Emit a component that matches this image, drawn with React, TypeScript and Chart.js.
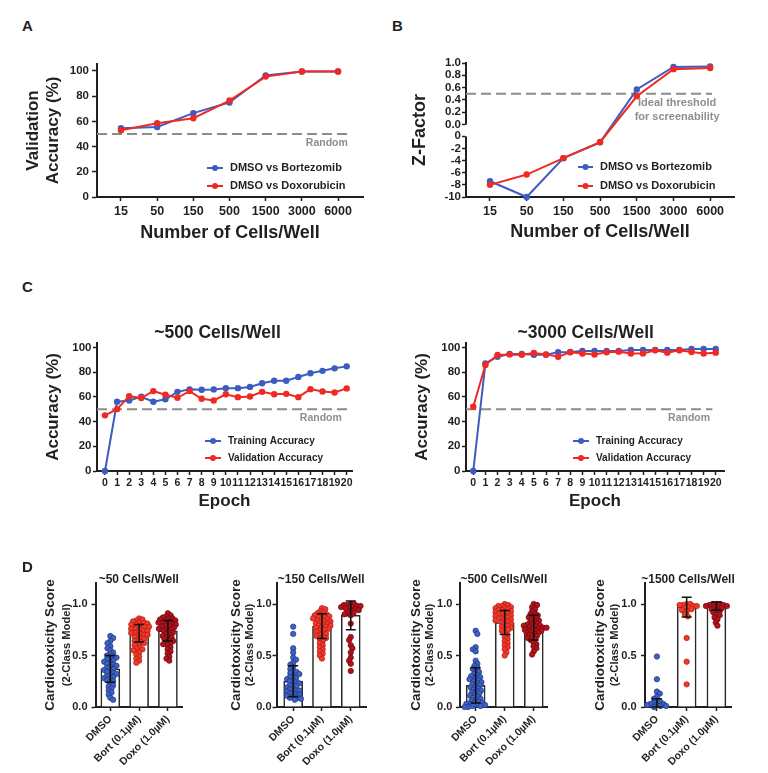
import React, { useEffect, useRef } from 'react';
import { Chart, registerables, LinearScale } from 'chart.js';

const FONT = '"Liberation Sans", Arial, Helvetica, sans-serif';
const INK = '#231f20';
const BLUE = '#3c5cbf';
const RED = '#ef2a24';
const GRAY_LINE = '#8c8c8c';
const GRAY_TEXT = '#8e8e8e';

// ---------- Panel A ----------
const cellLabels = ['15', '50', '150', '500', '1500', '3000', '6000'];
const accBortezomib = [54.5, 55.5, 66.5, 75, 96.5, 99.5, 99.5];
const accDoxorubicin = [53, 58.5, 62.5, 76.5, 95.5, 99.5, 99.5];
const accTicks = [0, 20, 40, 60, 80, 100];
const randomLevel = 50;

// ---------- Panel B ----------
const zBortezomib = [-7.4, -10, -3.6, -1, 0.57, 0.935, 0.945];
const zDoxorubicin = [-8, -6.3, -3.6, -0.95, 0.46, 0.9, 0.92];
const zTicksTop = [0, 0.2, 0.4, 0.6, 0.8, 1.0];
const zTicksBottom = [-10, -8, -6, -4, -2, 0];
const zThreshold = 0.5;

// ---------- Panel C ----------
const epochs = [0, 1, 2, 3, 4, 5, 6, 7, 8, 9, 10, 11, 12, 13, 14, 15, 16, 17, 18, 19, 20];
const train500 = [0, 56, 57, 60, 56, 58, 64, 66, 65.7, 66, 67, 67, 68, 71, 73, 73, 76, 79, 81, 83, 84.6];
const val500 = [45, 50, 60.5, 59, 64.6, 61.6, 59.2, 64.6, 58.4, 57, 62, 59.7, 60.3, 64, 62, 62.4, 59.7, 66.2, 64.3, 63.5, 66.8];
const train3000 = [0, 87, 92.4, 94.6, 94.6, 94, 94, 96, 96.2, 97, 97, 97, 97, 97.8, 97.8, 97.8, 97.8, 97.8, 98.6, 98.6, 98.6];
const val3000 = [52, 85.7, 93.8, 94.3, 94, 95.4, 94.3, 92.4, 96, 95, 94.3, 96, 96.5, 95, 95.1, 97.6, 95.7, 97.6, 96.2, 95, 95.7];

// ---------- Panel D ----------
const groups = ['DMSO', 'Bort (0.1µM)', 'Doxo (1.0µM)'];
const dTitles = ['~50 Cells/Well', '~150 Cells/Well', '~500 Cells/Well', '~1500 Cells/Well'];
const scoreTicks = [0, 0.5, 1.0];

const d50Dmso = [0.69, 0.67, 0.64, 0.62, 0.59, 0.57, 0.55, 0.53, 0.51, 0.5, 0.49, 0.48, 0.47, 0.46, 0.45, 0.44, 0.43, 0.42, 0.41, 0.4, 0.39, 0.38, 0.37, 0.36, 0.35, 0.34, 0.33, 0.32, 0.31, 0.3, 0.29, 0.28, 0.27, 0.26, 0.25, 0.23, 0.21, 0.2, 0.18, 0.16, 0.14, 0.12, 0.09, 0.07];
const d50Bort = [0.86, 0.85, 0.84, 0.83, 0.82, 0.82, 0.81, 0.8, 0.8, 0.79, 0.78, 0.78, 0.77, 0.76, 0.76, 0.75, 0.74, 0.74, 0.73, 0.72, 0.72, 0.71, 0.7, 0.7, 0.69, 0.68, 0.67, 0.66, 0.65, 0.64, 0.63, 0.62, 0.61, 0.6, 0.58, 0.57, 0.56, 0.55, 0.53, 0.51, 0.49, 0.47, 0.45, 0.43];
const d50Doxo = [0.91, 0.89, 0.88, 0.87, 0.86, 0.86, 0.85, 0.84, 0.84, 0.83, 0.82, 0.82, 0.81, 0.8, 0.8, 0.79, 0.78, 0.78, 0.77, 0.76, 0.76, 0.75, 0.74, 0.73, 0.72, 0.71, 0.7, 0.69, 0.68, 0.67, 0.66, 0.65, 0.64, 0.63, 0.62, 0.61, 0.6, 0.58, 0.56, 0.54, 0.52, 0.49, 0.47, 0.45];

const d150Dmso = [0.78, 0.71, 0.57, 0.53, 0.48, 0.46, 0.43, 0.41, 0.39, 0.37, 0.35, 0.34, 0.33, 0.32, 0.3, 0.29, 0.28, 0.27, 0.26, 0.25, 0.24, 0.23, 0.22, 0.21, 0.2, 0.19, 0.18, 0.17, 0.16, 0.16, 0.15, 0.14, 0.13, 0.12, 0.12, 0.11, 0.1, 0.09, 0.09, 0.08, 0.07];
const d150Bort = [0.96, 0.95, 0.93, 0.92, 0.91, 0.9, 0.89, 0.89, 0.88, 0.87, 0.87, 0.86, 0.85, 0.85, 0.84, 0.83, 0.83, 0.82, 0.81, 0.81, 0.8, 0.79, 0.79, 0.78, 0.77, 0.77, 0.76, 0.75, 0.74, 0.73, 0.72, 0.71, 0.7, 0.69, 0.68, 0.67, 0.66, 0.64, 0.62, 0.6, 0.58, 0.56, 0.54, 0.52, 0.5, 0.47];
const d150Doxo = [1.0, 1.0, 0.99, 0.99, 0.98, 0.98, 0.97, 0.97, 0.96, 0.96, 0.95, 0.94, 0.93, 0.92, 0.91, 0.9, 0.89, 0.81, 0.68, 0.65, 0.6, 0.57, 0.53, 0.48, 0.45, 0.42, 0.35];

const d500Dmso = [0.74, 0.71, 0.58, 0.56, 0.54, 0.45, 0.42, 0.4, 0.38, 0.37, 0.35, 0.34, 0.32, 0.31, 0.3, 0.29, 0.28, 0.27, 0.26, 0.25, 0.24, 0.23, 0.22, 0.21, 0.2, 0.19, 0.18, 0.17, 0.16, 0.15, 0.14, 0.13, 0.12, 0.11, 0.1, 0.09, 0.08, 0.07, 0.06, 0.05, 0.04, 0.04, 0.03, 0.03, 0.02, 0.02, 0.01, 0.01, 0.0, 0.0];
const d500Bort = [1.0, 0.99, 0.98, 0.98, 0.97, 0.96, 0.96, 0.95, 0.94, 0.94, 0.93, 0.92, 0.92, 0.91, 0.9, 0.9, 0.89, 0.88, 0.88, 0.87, 0.86, 0.86, 0.85, 0.84, 0.84, 0.83, 0.82, 0.81, 0.8, 0.79, 0.78, 0.77, 0.76, 0.75, 0.74, 0.72, 0.7, 0.68, 0.66, 0.64, 0.62, 0.6, 0.58, 0.56, 0.53, 0.5];
const d500Doxo = [1.0, 0.99, 0.97, 0.95, 0.93, 0.91, 0.9, 0.89, 0.88, 0.87, 0.86, 0.85, 0.84, 0.83, 0.82, 0.81, 0.8, 0.8, 0.79, 0.79, 0.78, 0.78, 0.77, 0.77, 0.76, 0.76, 0.75, 0.75, 0.74, 0.74, 0.73, 0.72, 0.72, 0.71, 0.7, 0.69, 0.68, 0.67, 0.66, 0.65, 0.63, 0.61, 0.59, 0.57, 0.54, 0.51];

const d1500Dmso = [0.49, 0.27, 0.15, 0.13, 0.1, 0.08, 0.06, 0.05, 0.04, 0.03, 0.03, 0.02, 0.02, 0.01, 0.01, 0.0];
const d1500Bort = [1.0, 1.0, 0.99, 0.99, 0.98, 0.98, 0.97, 0.96, 0.95, 0.94, 0.93, 0.9, 0.88, 0.67, 0.44, 0.22];
const d1500Doxo = [1.0, 1.0, 1.0, 0.99, 0.99, 0.98, 0.98, 0.97, 0.97, 0.96, 0.95, 0.94, 0.93, 0.92, 0.9, 0.89, 0.87, 0.85, 0.82, 0.79];

const dPoints = [
  [d50Dmso, d50Bort, d50Doxo],
  [d150Dmso, d150Bort, d150Doxo],
  [d500Dmso, d500Bort, d500Doxo],
  [d1500Dmso, d1500Bort, d1500Doxo],
];
const dMeans = [
  [0.37, 0.715, 0.74],
  [0.25, 0.785, 0.89],
  [0.21, 0.82, 0.77],
  [0.03, 0.97, 0.98],
];
const dSds = [
  [0.13, 0.085, 0.1],
  [0.15, 0.12, 0.14],
  [0.17, 0.117, 0.12],
  [0.05, 0.095, 0.04],
];
const groupFill = ['#3e62c4', '#f23a2c', '#b3121b'];
const groupStroke = ['#1f3580', '#b01a12', '#6a0a10'];

// ---------- broken y scale for panel B ----------
const BROKEN = { topShare: 0.46, gapShare: 0.087 };

class BrokenLinearScale extends (LinearScale as any) {
  static id = 'brokenLinear';
  static defaults = {};
  segPixel(v: number, seg: string): number {
    const self: any = this;
    const H = self.bottom - self.top;
    const tMax = zTicksTop[zTicksTop.length - 1];
    const tMin = zTicksTop[0];
    const bMax = zTicksBottom[zTicksBottom.length - 1];
    const bMin = zTicksBottom[0];
    if (seg === 'top') return self.top + ((tMax - v) / (tMax - tMin)) * H * BROKEN.topShare;
    const y0 = self.top + H * (BROKEN.topShare + BROKEN.gapShare);
    const h = H * (1 - BROKEN.topShare - BROKEN.gapShare);
    return y0 + ((bMax - v) / (bMax - bMin)) * h;
  }
  buildTicks() {
    return [
      ...zTicksBottom.map((v) => ({ value: v, seg: 'bottom' })),
      ...zTicksTop.map((v) => ({ value: v, seg: 'top' })),
    ];
  }
  getPixelForValue(v: number) {
    if (v === null || v === undefined || isNaN(v)) return NaN;
    return this.segPixel(v, v >= 0 ? 'top' : 'bottom');
  }
  getPixelForTick(i: number) {
    const t = (this as any).ticks[i];
    return this.segPixel(t.value, t.seg);
  }
  drawBorder() {
    const self: any = this;
    const ctx = self.ctx;
    const x = self.right;
    ctx.save();
    ctx.strokeStyle = INK;
    ctx.lineWidth = 2;
    ctx.beginPath();
    ctx.moveTo(x, this.segPixel(zTicksTop[zTicksTop.length - 1], 'top') - 1);
    ctx.lineTo(x, this.segPixel(zTicksTop[0], 'top'));
    ctx.moveTo(x, this.segPixel(zTicksBottom[zTicksBottom.length - 1], 'bottom'));
    ctx.lineTo(x, this.segPixel(zTicksBottom[0], 'bottom') + 1);
    ctx.stroke();
    ctx.restore();
  }
}

// ---------- plugins ----------
const insideLegend = {
  id: 'insideLegend',
  afterDatasetsDraw(chart: any, _a: any, opts: any) {
    if (!opts || !opts.items) return;
    const { ctx, chartArea } = chart;
    ctx.save();
    opts.items.forEach((it: any, k: number) => {
      const y = chartArea.top + opts.y + k * opts.gap;
      const x0 = chartArea.left + opts.x;
      ctx.strokeStyle = it.color;
      ctx.fillStyle = it.color;
      ctx.lineWidth = 2;
      ctx.beginPath();
      ctx.moveTo(x0, y);
      ctx.lineTo(x0 + opts.len, y);
      ctx.stroke();
      ctx.beginPath();
      ctx.arc(x0 + opts.len / 2, y, 3, 0, Math.PI * 2);
      ctx.fill();
      ctx.fillStyle = INK;
      ctx.font = `bold ${opts.size}px ${FONT}`;
      ctx.textAlign = 'left';
      ctx.textBaseline = 'middle';
      ctx.fillText(it.label, x0 + opts.len + opts.textGap, y);
    });
    ctx.restore();
  },
};

const annots = {
  id: 'annots',
  afterDatasetsDraw(chart: any, _a: any, opts: any) {
    if (!opts || !opts.items) return;
    const { ctx, chartArea, scales } = chart;
    ctx.save();
    opts.items.forEach((t: any) => {
      let x: number;
      let y: number;
      if (t.xv !== undefined) x = scales.x.getPixelForValue(t.xv);
      else if (t.px === 'center') x = (chartArea.left + chartArea.right) / 2;
      else x = t.px;
      if (t.yv !== undefined) y = scales.y.getPixelForValue(t.yv);
      else if (t.py === 'mid') y = (chartArea.top + chartArea.bottom) / 2;
      else y = t.py;
      ctx.font = `bold ${t.size}px ${FONT}`;
      ctx.fillStyle = t.color || INK;
      ctx.textAlign = t.align || 'center';
      ctx.textBaseline = 'middle';
      ctx.save();
      ctx.translate(x, y);
      if (t.rot) ctx.rotate((t.rot * Math.PI) / 180);
      ctx.fillText(t.text, 0, 0);
      ctx.restore();
    });
    ctx.restore();
  },
};

const errBars = {
  id: 'errBars',
  afterDatasetsDraw(chart: any, _a: any, opts: any) {
    if (!opts || !opts.means) return;
    const { ctx, scales } = chart;
    ctx.save();
    ctx.strokeStyle = '#111';
    ctx.lineWidth = 1.5;
    opts.means.forEach((m: number, i: number) => {
      const sd = opts.sds[i];
      const x = scales.x.getPixelForValue(i);
      const y1 = scales.y.getPixelForValue(m + sd);
      const y2 = scales.y.getPixelForValue(Math.max(0, m - sd));
      ctx.beginPath();
      ctx.moveTo(x, y1);
      ctx.lineTo(x, y2);
      ctx.moveTo(x - opts.cap, y1);
      ctx.lineTo(x + opts.cap, y1);
      ctx.moveTo(x - opts.cap, y2);
      ctx.lineTo(x + opts.cap, y2);
      ctx.stroke();
    });
    ctx.restore();
  },
};

Chart.register(...registerables, BrokenLinearScale as any, insideLegend, annots, errBars);

// ---------- helpers ----------
function axis(o: any) {
  return {
    type: o.type || 'linear',
    min: o.min,
    max: o.max,
    offset: false,
    afterBuildTicks: o.tickValues
      ? (s: any) => {
          s.ticks = o.tickValues.map((v: number) => ({ value: v }));
        }
      : undefined,
    afterFit: (s: any) => {
      if (o.width !== undefined) s.width = o.width;
      if (o.height !== undefined) s.height = o.height;
    },
    border: { display: true, color: INK, width: 2 },
    grid: {
      display: true,
      offset: false,
      drawOnChartArea: false,
      drawTicks: true,
      tickLength: o.tickLen ?? 4,
      tickWidth: 1.5,
      tickColor: INK,
    },
    ticks: {
      autoSkip: false,
      maxRotation: o.rot ?? 0,
      minRotation: o.rot ?? 0,
      padding: o.tickPad ?? 3,
      color: INK,
      font: { family: FONT, size: o.tickSize ?? 12, weight: 'bold' },
      callback: o.fmt,
    },
    title: o.title
      ? {
          display: true,
          text: o.title,
          color: INK,
          font: { family: FONT, size: o.titleSize, weight: 'bold', lineHeight: 1.2 },
          padding: o.titlePad,
        }
      : { display: false },
  };
}

function lineSet(label: string, xs: number[], ys: number[], color: string) {
  return {
    type: 'line',
    label,
    data: xs.map((x, i) => ({ x, y: ys[i] })),
    borderColor: color,
    backgroundColor: color,
    borderWidth: 2,
    pointRadius: 3.2,
    pointBorderWidth: 0,
    pointBackgroundColor: color,
    tension: 0,
    clip: false,
  };
}

function dashSet(x0: number, x1: number, y: number) {
  return {
    type: 'line',
    label: 'ref',
    data: [
      { x: x0, y },
      { x: x1, y },
    ],
    borderColor: GRAY_LINE,
    borderWidth: 2,
    borderDash: [10, 5],
    pointRadius: 0,
    clip: false,
  };
}

const baseOpts = (padding: any) => ({
  animation: false,
  responsive: false,
  maintainAspectRatio: false,
  events: [],
  layout: { padding },
});

const cellIdx = cellLabels.map((_, i) => i);

// ---------- Panel A ----------
function buildA() {
  const xmin = -0.663;
  return {
    type: 'line',
    data: {
      datasets: [
        lineSet('DMSO vs Doxorubicin', cellIdx, accDoxorubicin, RED),
        lineSet('DMSO vs Bortezomib', cellIdx, accBortezomib, BLUE),
        dashSet(xmin, 6.28, randomLevel),
      ],
    },
    options: {
      ...baseOpts({ top: 24, right: 21, left: 0, bottom: 0 }),
      plugins: {
        legend: { display: false },
        tooltip: { enabled: false },
        insideLegend: {
          x: 110, y: 104, gap: 18, len: 16, textGap: 7, size: 11,
          items: [
            { label: 'DMSO vs Bortezomib', color: BLUE },
            { label: 'DMSO vs Doxorubicin', color: RED },
          ],
        },
        annots: { items: [{ text: 'Random', xv: 6.27, yv: 43, align: 'right', size: 10.5, color: GRAY_TEXT }] },
      },
      scales: {
        x: axis({
          min: xmin, max: 6.69, tickValues: cellIdx, fmt: (v: number) => cellLabels[v],
          height: 73, tickPad: 3.5, tickSize: 12.5,
          title: 'Number of Cells/Well', titleSize: 18, titlePad: { top: 0, bottom: 25.9 },
        }),
        y: axis({
          min: 0, max: 105.5, tickValues: accTicks, fmt: (v: number) => String(v),
          width: 97, tickLen: 5, tickPad: 3, tickSize: 11.5,
          title: ['Validation', 'Accuracy (%)'], titleSize: 17, titlePad: { top: 22.8, bottom: 0 },
        }),
      },
    },
  };
}

// ---------- Panel B ----------
function buildB() {
  const xmin = -0.654;
  return {
    type: 'line',
    data: {
      datasets: [
        lineSet('DMSO vs Doxorubicin', cellIdx, zDoxorubicin, RED),
        lineSet('DMSO vs Bortezomib', cellIdx, zBortezomib, BLUE),
        dashSet(xmin, 6.05, zThreshold),
      ],
    },
    options: {
      ...baseOpts({ top: 23, right: 34, left: 0, bottom: 0 }),
      plugins: {
        legend: { display: false },
        tooltip: { enabled: false },
        insideLegend: {
          x: 112, y: 104, gap: 19, len: 15, textGap: 7, size: 11,
          items: [
            { label: 'DMSO vs Bortezomib', color: BLUE },
            { label: 'DMSO vs Doxorubicin', color: RED },
          ],
        },
        annots: {
          items: [
            { text: 'Ideal threshold', xv: 5.1, yv: 0.35, align: 'center', size: 11, color: GRAY_TEXT },
            { text: 'for screenability', xv: 5.1, yv: 0.118, align: 'center', size: 11, color: GRAY_TEXT },
          ],
        },
      },
      scales: {
        x: axis({
          min: xmin, max: 6.65, tickValues: cellIdx, fmt: (v: number) => cellLabels[v],
          height: 73, tickPad: 3.5, tickSize: 12.5,
          title: 'Number of Cells/Well', titleSize: 18, titlePad: { top: 0, bottom: 27.5 },
        }),
        y: {
          ...axis({
            type: 'brokenLinear', min: -10, max: 1,
            fmt: (v: number, i: number, ticks: any[]) => (ticks[i].seg === 'top' ? v.toFixed(1) : String(v)),
            width: 82, tickLen: 4, tickPad: 1, tickSize: 11.5,
            title: 'Z-Factor', titleSize: 18, titlePad: { top: 25.5, bottom: 0 },
          }),
          afterBuildTicks: undefined,
        },
      },
    },
  };
}

// ---------- Panel C ----------
function buildC(train: number[], val: number[], geo: any) {
  return {
    type: 'line',
    data: {
      datasets: [
        lineSet('Validation Accuracy', epochs, val, RED),
        lineSet('Training Accuracy', epochs, train, BLUE),
        dashSet(geo.xmin, geo.dashEnd, randomLevel),
      ],
    },
    options: {
      ...baseOpts({ top: 23, right: geo.padRight, left: 0, bottom: 0 }),
      plugins: {
        legend: { display: false },
        tooltip: { enabled: false },
        insideLegend: {
          x: geo.legX, y: 98, gap: 17, len: 16, textGap: 7, size: 10,
          items: [
            { label: 'Training Accuracy', color: BLUE },
            { label: 'Validation Accuracy', color: RED },
          ],
        },
        annots: {
          items: [
            { text: 'Random', xv: geo.randomX, yv: 42.7, align: 'right', size: 10.5, color: GRAY_TEXT },
            { text: geo.title, px: geo.titleX, py: 13, align: 'center', size: 17.5, color: INK },
          ],
        },
      },
      scales: {
        x: axis({
          min: geo.xmin, max: geo.xmax, tickValues: epochs, fmt: (v: number) => String(v),
          height: 49, tickPad: 1.7, tickSize: 10.5,
          title: 'Epoch', titleSize: 17, titlePad: { top: 0, bottom: 8.1 },
        }),
        y: axis({
          min: 0, max: 103.5, tickValues: accTicks, fmt: (v: number) => String(v),
          width: geo.yWidth, tickLen: 4, tickPad: 1.5, tickSize: 11.5,
          title: 'Accuracy (%)', titleSize: 17, titlePad: { top: geo.yTitlePad, bottom: 0 },
        }),
      },
    },
  };
}

const buildC500 = () =>
  buildC(train500, val500, {
    xmin: -0.66, xmax: 20.44, dashEnd: 20.14, padRight: 32, legX: 108, randomX: 19.6,
    title: '~500 Cells/Well', titleX: 217.5, yWidth: 97, yTitlePad: 42.8,
  });
const buildC3000 = () =>
  buildC(train3000, val3000, {
    xmin: -0.6, xmax: 20.68, dashEnd: 19.72, padRight: 44, legX: 107, randomX: 19.53,
    title: '~3000 Cells/Well', titleX: 201.7, yWidth: 82, yTitlePad: 28.1,
  });

// ---------- Panel D ----------
// deterministic beeswarm layout (horizontal spread only; values are untouched)
function swarm(values: number[], pxPerX: number, pxPerY: number, d: number): number[] {
  const order = values.map((_, i) => i).sort((a, b) => values[b] - values[a]);
  const placed: { x: number; y: number }[] = [];
  const out = values.map(() => 0);
  let balance = 0;
  for (const i of order) {
    const y = values[i] * pxPerY;
    const cands = [0];
    for (const p of placed) {
      const dy = Math.abs(p.y - y);
      if (dy < d) {
        const dx = Math.sqrt(d * d - dy * dy);
        cands.push(p.x + dx + 0.01, p.x - dx - 0.01);
      }
    }
    const pref = balance > 0 ? -1 : 1;
    cands.sort((a, b) => {
      const da = Math.abs(a) - Math.abs(b);
      if (Math.abs(da) > 0.3) return da;
      return (Math.sign(b) === pref ? 1 : 0) - (Math.sign(a) === pref ? 1 : 0);
    });
    let chosen = 0;
    for (const c of cands) {
      if (placed.every((p) => (p.x - c) ** 2 + (p.y - y) ** 2 >= d * d - 0.01)) {
        chosen = c;
        break;
      }
    }
    balance += chosen;
    placed.push({ x: chosen, y });
    out[i] = chosen / pxPerX;
  }
  return out;
}

const dGeo = [
  { xmin: -0.515, xmax: 2.49, yWidth: 95.5, padRight: 8, tickPad: 4, titlePad: 41.9, subX: 66.7 },
  { xmin: -0.58, xmax: 2.53, yWidth: 86.5, padRight: 14, tickPad: 1, titlePad: 38.6, subX: 60 },
  { xmin: -0.54, xmax: 2.48, yWidth: 80, padRight: 22.3, tickPad: 3.7, titlePad: 28.6, subX: 50 },
  { xmin: -0.4, xmax: 2.49, yWidth: 75, padRight: 37, tickPad: 4.4, titlePad: 21.9, subX: 45 },
];

function buildD(k: number) {
  const g = dGeo[k];
  const groupIdx = groups.map((_, i) => i);
  const scatterSets = dPoints[k].map((vals, gi) => {
    const offs = swarm(vals, 29, 103, 3.5);
    return {
      type: 'scatter',
      label: groups[gi],
      data: vals.map((v, j) => ({ x: gi + offs[j], y: v })),
      pointRadius: 2.7,
      pointBackgroundColor: groupFill[gi],
      pointBorderColor: groupStroke[gi],
      pointBorderWidth: 0.7,
      order: 1,
      clip: false,
    };
  });
  return {
    type: 'scatter',
    data: {
      datasets: [
        ...scatterSets,
        {
          type: 'bar',
          label: 'mean',
          data: groupIdx.map((i) => ({ x: i, y: dMeans[k][i] })),
          backgroundColor: '#ffffff',
          borderColor: '#2b2b2b',
          borderWidth: 1.6,
          barThickness: 19,
          order: 3,
        },
      ],
    },
    options: {
      ...baseOpts({ top: 23, right: g.padRight, left: 0, bottom: 0 }),
      plugins: {
        legend: { display: false },
        tooltip: { enabled: false },
        errBars: { means: dMeans[k], sds: dSds[k], cap: 5 },
        annots: {
          items: [
            { text: dTitles[k], px: 'center', py: 19.8, align: 'center', size: 12, color: INK },
            { text: '(2-Class Model)', px: g.subX, py: 'mid', rot: -90, align: 'center', size: 11.2, color: INK },
          ],
        },
      },
      scales: {
        x: axis({
          min: g.xmin, max: g.xmax, tickValues: groupIdx, fmt: (v: number) => groups[v],
          height: 66, tickPad: 2, tickSize: 10.5, rot: 45, tickLen: 4,
        }),
        y: axis({
          min: 0, max: 1.204, tickValues: scoreTicks, fmt: (v: number) => v.toFixed(1),
          width: g.yWidth, tickLen: 4, tickPad: g.tickPad, tickSize: 11,
          title: 'Cardiotoxicity Score', titleSize: 13.5, titlePad: { top: g.titlePad, bottom: 0 },
        }),
      },
    },
  };
}

const buildD0 = () => buildD(0);
const buildD1 = () => buildD(1);
const buildD2 = () => buildD(2);
const buildD3 = () => buildD(3);

// ---------- React ----------
function ChartBox(props: { left: number; top: number; width: number; height: number; build: () => any }) {
  const { left, top, width, height, build } = props;
  const ref = useRef<HTMLCanvasElement>(null);
  useEffect(() => {
    const chart = new Chart(ref.current as HTMLCanvasElement, build());
    return () => chart.destroy();
  }, [build]);
  return (
    <canvas
      ref={ref}
      width={width}
      height={height}
      style={{ position: 'absolute', left, top, width, height }}
    />
  );
}

const letter = (left: number, top: number): React.CSSProperties => ({
  position: 'absolute',
  left,
  top,
  fontFamily: FONT,
  fontWeight: 'bold',
  fontSize: 15,
  lineHeight: '15px',
  color: INK,
});

export default function App() {
  return (
    <div style={{ position: 'absolute', left: 0, top: 0, width: 768, height: 773, background: '#fff', overflow: 'hidden' }}>
      <ChartBox left={0} top={40} width={384} height={230} build={buildA} />
      <ChartBox left={384} top={40} width={384} height={230} build={buildB} />
      <ChartBox left={0} top={320} width={384} height={200} build={buildC500} />
      <ChartBox left={384} top={320} width={384} height={200} build={buildC3000} />
      <ChartBox left={0} top={560} width={190} height={213} build={buildD0} />
      <ChartBox left={190} top={560} width={190} height={213} build={buildD1} />
      <ChartBox left={380} top={560} width={190} height={213} build={buildD2} />
      <ChartBox left={570} top={560} width={198} height={213} build={buildD3} />
      <div style={letter(22, 18)}>A</div>
      <div style={letter(392, 18)}>B</div>
      <div style={letter(22, 279)}>C</div>
      <div style={letter(22, 559)}>D</div>
    </div>
  );
}
